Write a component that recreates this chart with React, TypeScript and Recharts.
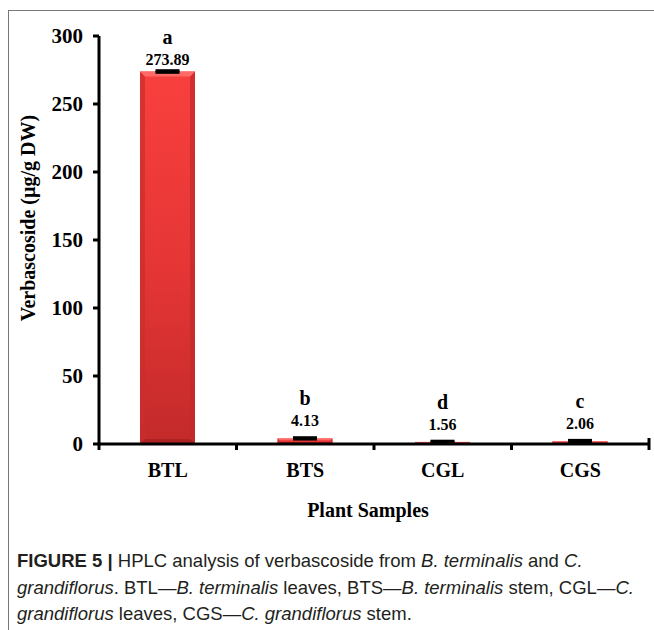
import React from "react";
import { BarChart, Bar, XAxis, YAxis, ErrorBar, LabelList, Label } from "recharts";

// HPLC verbascoside content per plant sample
const samples = ["BTL", "BTS", "CGL", "CGS"];
const verbascoside = [273.89, 4.13, 1.56, 2.06];
const errors = [0.6, 0.5, 0.5, 0.6];
const letters = ["a", "b", "d", "c"];
const yTicks = [0, 50, 100, 150, 200, 250, 300];

const data = samples.map((name, i) => ({
  name,
  value: verbascoside[i],
  err: errors[i],
  letter: letters[i],
}));

const W = 654;
const CHART_H = 530;
const MARGIN = { top: 36, right: 5, left: 0, bottom: 0 };
const Y_AXIS_W = 99;
const serif = '"Liberation Serif", "Times New Roman", serif';
const sans = '"Liberation Sans", Arial, Helvetica, sans-serif';

// bar with a bevelled, shaded front like the original 3D-ish excel bars
function BevelBar(props: any) {
  const { x, y, width, height } = props;
  if (!height || height <= 0) return null;
  const b = Math.min(5, height / 3);
  const r = x + width;
  const btm = y + height;
  return (
    <g>
      <rect x={x} y={y} width={width} height={height} fill="url(#barFace)" />
      <polygon points={`${x},${y} ${x + b},${y + b} ${x + b},${btm - b} ${x},${btm}`} fill="#c92e2e" opacity={0.7} />
      <polygon points={`${r},${y} ${r - b},${y + b} ${r - b},${btm - b} ${r},${btm}`} fill="#c22a2a" opacity={0.7} />
      <polygon points={`${x},${y} ${r},${y} ${r - b},${y + b} ${x + b},${y + b}`} fill="#ff6a66" />
      <polygon points={`${x},${btm} ${r},${btm} ${r - b},${btm - b} ${x + b},${btm - b}`} fill="#a82222" opacity={0.8} />
    </g>
  );
}

function BarLabels(props: any) {
  const { x, y, width, height, index } = props;
  const cx = x + width / 2;
  const gap = height > 20 ? 7 : 12;
  return (
    <g fontFamily={serif} fontWeight="bold" fill="#000" textAnchor="middle">
      <text x={cx} y={y - gap - 21} fontSize={20}>
        {letters[index]}
      </text>
      <text x={cx} y={y - gap} fontSize={16}>
        {verbascoside[index].toFixed(2)}
      </text>
    </g>
  );
}

function SampleTick(props: any) {
  const { x, y, payload, index, visibleTicksCount } = props;
  const half =
    payload && payload.offset
      ? payload.offset
      : (W - MARGIN.left - MARGIN.right - Y_AXIS_W) / samples.length / 2;
  const last = index === (visibleTicksCount ?? samples.length) - 1;
  return (
    <g>
      <line x1={x - half} x2={x - half} y1={y} y2={y + 6} stroke="#000" strokeWidth={3} />
      {last && <line x1={x + half} x2={x + half} y1={y - 6} y2={y + 6} stroke="#000" strokeWidth={3} />}
      <text x={x} y={y + 33} textAnchor="middle" fontFamily={serif} fontWeight="bold" fontSize={20} fill="#000">
        {payload.value}
      </text>
    </g>
  );
}

export default function App() {
  return (
    <div
      style={{
        position: "absolute",
        left: 0,
        top: 0,
        width: W,
        height: 630,
        background: "#fff",
        overflow: "hidden",
      }}
    >
      <div
        style={{
          position: "absolute",
          left: 8,
          top: 10,
          width: W - 8,
          height: 620,
          borderTop: "1px solid #777",
          borderLeft: "1px solid #777",
        }}
      />
      <div style={{ position: "absolute", left: 0, top: 0 }}>
        <BarChart width={W} height={CHART_H} data={data} margin={MARGIN}>
          <defs>
            <linearGradient id="barFace" x1="0" y1="0" x2="0" y2="1">
              <stop offset="0%" stopColor="#f8403e" />
              <stop offset="55%" stopColor="#e43535" />
              <stop offset="100%" stopColor="#c32a2a" />
            </linearGradient>
          </defs>
          <XAxis
            dataKey="name"
            height={CHART_H - 444}
            axisLine={{ stroke: "#000", strokeWidth: 3 }}
            tickLine={false}
            tickSize={0}
            tickMargin={0}
            tick={<SampleTick />}
            interval={0}
          >
            <Label
              content={(p: any) => {
                const vb = p.viewBox;
                return (
                  <text
                    x={vb.x + vb.width / 2 - 6}
                    y={vb.y + 73}
                    textAnchor="middle"
                    fontFamily={serif}
                    fontWeight="bold"
                    fontSize={20}
                    fill="#000"
                  >
                    Plant Samples
                  </text>
                );
              }}
            />
          </XAxis>
          <YAxis
            width={Y_AXIS_W}
            domain={[0, 300]}
            ticks={yTicks}
            interval={0}
            axisLine={{ stroke: "#000", strokeWidth: 3 }}
            tickLine={{ stroke: "#000", strokeWidth: 3 }}
            tickSize={6}
            tickMargin={10}
            tick={{ fill: "#000", fontSize: 21, fontWeight: "bold", fontFamily: serif }}
          >
            <Label
              content={(p: any) => {
                const vb = p.viewBox;
                const cx = vb.x + 28;
                const cy = vb.y + vb.height / 2 - 22;
                return (
                  <text
                    x={cx}
                    y={cy}
                    transform={`rotate(-90, ${cx}, ${cy})`}
                    textAnchor="middle"
                    dominantBaseline="central"
                    fontFamily={serif}
                    fontWeight="bold"
                    fontSize={20}
                    fill="#000"
                  >
                    Verbascoside (µg/g DW)
                  </text>
                );
              }}
            />
          </YAxis>
          <Bar dataKey="value" barSize={55} shape={<BevelBar />} isAnimationActive={false}>
            <ErrorBar dataKey="err" width={12} strokeWidth={3} stroke="#000" direction="y" />
            <LabelList dataKey="value" content={<BarLabels />} />
          </Bar>
        </BarChart>
      </div>
      <div
        style={{
          position: "absolute",
          left: 17,
          top: 548,
          fontFamily: sans,
          fontSize: 18.5,
          lineHeight: "26.5px",
          color: "#231f20",
          whiteSpace: "nowrap",
        }}
      >
        <div>
          <b>FIGURE 5 |</b> HPLC analysis of verbascoside from <i>B. terminalis</i> and <i>C.</i>
        </div>
        <div>
          <i>grandiflorus</i>. BTL—<i>B. terminalis</i> leaves, BTS—<i>B. terminalis</i> stem, CGL—<i>C.</i>
        </div>
        <div>
          <i>grandiflorus</i> leaves, CGS—<i>C. grandiflorus</i> stem.
        </div>
      </div>
    </div>
  );
}
